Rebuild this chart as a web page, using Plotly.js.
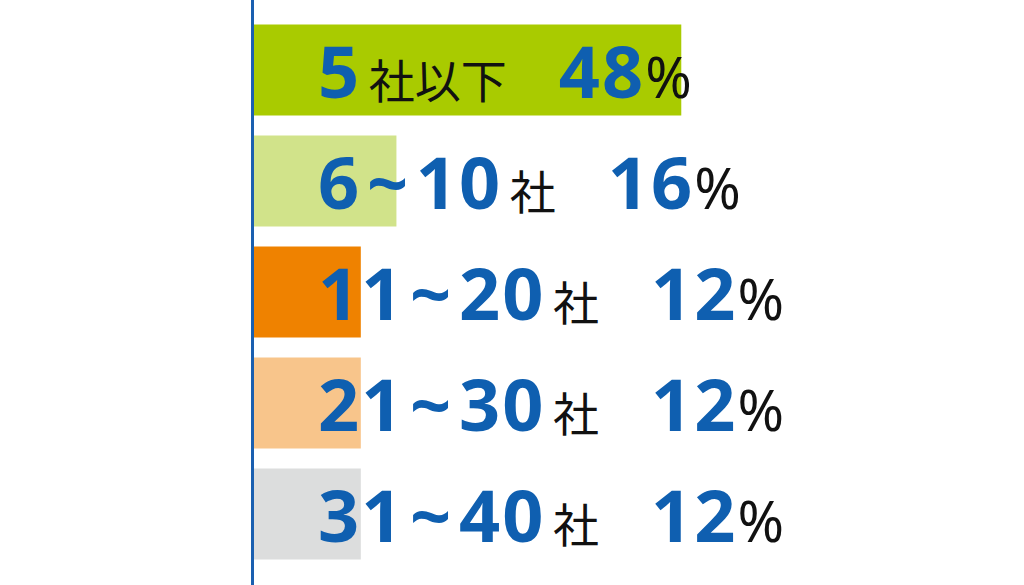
<!DOCTYPE html>
<html>
<head>
<meta charset="utf-8">
<script src="https://cdn.plot.ly/plotly-3.0.1.min.js"></script>
<style>
  html, body { margin: 0; padding: 0; background: #ffffff; }
  #chart { width: 1024px; height: 585px; }
</style>
</head>
<body>
<div id="chart"></div>
<script>
const categories = ["5社以下", "6~10社", "11~20社", "21~30社", "31~40社"];
const values = [48, 16, 12, 12, 12];
const barColors = ["#a9cb00", "#d1e38a", "#ef8200", "#f8c58b", "#dcdddd"];

const BLUE = "#0f5fb0";
const NUM_STYLE = `color:${BLUE};font-size:72px;font-weight:bold;letter-spacing:2px;`;
const KANJI_STYLE = "color:#111111;font-size:46px;font-weight:normal;";
const GAP = `<span style="font-size:22px;letter-spacing:0px;">\u00a0</span>`;

// numbers and tilde big/blue/bold, kanji small/black
function richLabel(label) {
  return label.replace(/([0-9~]+)|([^0-9~]+)/g, (m, num, kan) => {
    if (num) {
      return num.split("~")
        .map(part => `<span style="${NUM_STYLE}">${part}</span>`)
        .join(`${GAP}<span style="${NUM_STYLE}">~</span>${GAP}`);
    }
    return `<span style="${KANJI_STYLE}">\u2009${kan}</span>`;
  });
}

function richPercent(value) {
  return `<span style="${NUM_STYLE}">${value}</span>` +
    `<span style="color:#111111;font-size:56px;font-weight:normal;">%</span>`;
}

const trace = {
  type: "bar",
  orientation: "h",
  x: values,
  y: categories,
  marker: { color: barColors },
  hoverinfo: "skip"
};

const annotations = categories.map((cat, i) => ({
  x: 7,
  y: cat,
  xref: "x",
  yref: "y",
  xanchor: "left",
  yanchor: "middle",
  showarrow: false,
  align: "left",
  text: richLabel(cat) + "<span style='font-size:50px;'>\u00a0\u00a0\u00a0\u00a0</span>" + richPercent(values[i]),
  font: { family: "Noto Sans, Noto Sans CJK JP, sans-serif", size: 46, color: "#111111" }
}));

const layout = {
  width: 1024,
  height: 585,
  paper_bgcolor: "#ffffff",
  plot_bgcolor: "#ffffff",
  margin: { l: 254, r: 0, t: 0, b: 0 },
  showlegend: false,
  bargap: 0.18,
  font: { family: "Noto Sans, Noto Sans CJK JP, sans-serif" },
  xaxis: {
    range: [0, 86.5],
    showgrid: false,
    zeroline: false,
    showticklabels: false,
    showline: false,
    ticks: ""
  },
  yaxis: {
    type: "category",
    range: [4.64, -0.63],
    showgrid: false,
    zeroline: false,
    showticklabels: false,
    ticks: "",
    showline: true,
    linecolor: "#1a5fb0",
    linewidth: 3
  },
  annotations: annotations
};

Plotly.newPlot("chart", [trace], layout, { displayModeBar: false, staticPlot: true });
</script>
</body>
</html>
